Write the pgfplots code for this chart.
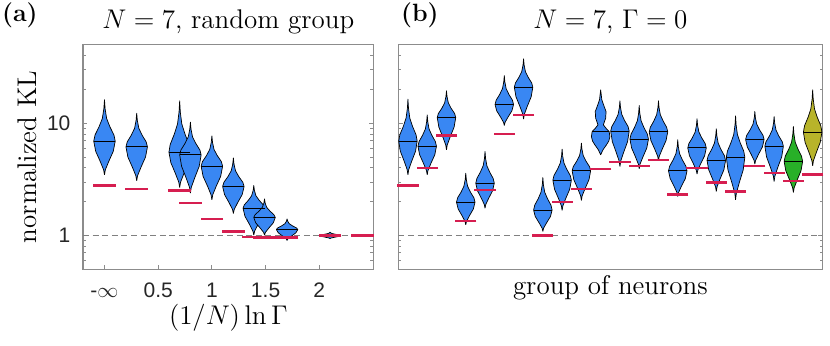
\RequirePackage{fix-cm}
\documentclass[border=0pt]{standalone}
\usepackage{fontspec}
\usepackage{pgfplots}
\pgfplotsset{compat=1.18}
\newfontfamily\ticksf{Liberation Sans}
\definecolor{vblue}{RGB}{57,135,243}
\definecolor{vgreen}{RGB}{40,176,40}
\definecolor{volive}{RGB}{184,180,42}
\definecolor{kred}{RGB}{214,30,80}
\definecolor{axgray}{RGB}{140,140,140}
\definecolor{dgray}{RGB}{128,128,128}
\pgfplotsset{
 panel/.style={
  scale only axis, height=112.3pt,
  ymin=-0.30103, ymax=1.69897,
  ytick={0,1},
  minor ytick={-0.2218,-0.1549,-0.0969,-0.0458,0.3010,0.4771,0.6021,0.6990,0.7782,0.8451,0.9031,0.9542,1.3010,1.4771,1.6021},
  tick align=inside, ytick pos=both, xtick pos=left,
  axis line style={draw=axgray, line width=0.5pt},
  major tick length=2.2pt, minor tick length=1.4pt,
  tick style={draw=axgray, line width=0.4pt},
  ticklabel style={font=\ticksf\fontsize{10.5}{12}\selectfont, text=black!85},
  yticklabel style={inner sep=0pt, xshift=-6.1pt},
  xticklabel style={inner sep=0pt, anchor=base, yshift=-14.2pt},
 },
 vio/.style={draw=black, line width=0.35pt, fill=vblue, line join=round},
}
\begin{document}
\begin{tikzpicture}
\path[use as bounding box] (0,0) rectangle (415pt,173pt);
% ---------------- panel (a)
\begin{axis}[panel, at={(41.5pt,38.35pt)}, anchor=south west, width=145pt,
  xmin=-0.2, xmax=2.5, xtick={0,0.5,1,1.5,2},
  xticklabels={-$\infty$,0.5,1,1.5,2}, yticklabels={1,10}]
\addplot[dgray, line width=0.6pt, dash pattern=on 3pt off 1.8pt] coordinates {(-0.2,0) (2.5,0)};
\def\med#1#2{\addplot[only marks, mark=-, mark size=5.37pt, black, mark options={line width=0.5pt}] coordinates {(#1,#2)};}
\addplot[vio] coordinates {(0,0.540) (0.008,0.585) (0.04,0.660) (0.082,0.750) (0.1,0.840) (0.088,0.895) (0.05,0.969) (0.02,1.042) (0.006,1.127) (0,1.208) (-0.006,1.127) (-0.02,1.042) (-0.05,0.969) (-0.088,0.895) (-0.1,0.840) (-0.082,0.750) (-0.04,0.660) (-0.008,0.585) (0,0.540)};
\med{0}{0.840}
\addplot[vio] coordinates {(0.3,0.487) (0.308,0.532) (0.34,0.608) (0.382,0.698) (0.4,0.789) (0.388,0.834) (0.35,0.894) (0.32,0.954) (0.306,1.023) (0.3,1.089) (0.294,1.023) (0.28,0.954) (0.25,0.894) (0.212,0.834) (0.2,0.789) (0.218,0.698) (0.26,0.608) (0.292,0.532) (0.3,0.487)};
\med{0.3}{0.789}
\addplot[vio] coordinates {(0.7,0.427) (0.708,0.474) (0.74,0.553) (0.782,0.648) (0.8,0.742) (0.788,0.811) (0.75,0.902) (0.72,0.993) (0.706,1.098) (0.7,1.199) (0.694,1.098) (0.68,0.993) (0.65,0.902) (0.612,0.811) (0.6,0.742) (0.618,0.648) (0.66,0.553) (0.692,0.474) (0.7,0.427)};
\med{0.7}{0.742}
\addplot[vio] coordinates {(0.8,0.377) (0.808,0.428) (0.84,0.513) (0.882,0.616) (0.9,0.718) (0.888,0.762) (0.85,0.820) (0.82,0.878) (0.806,0.945) (0.8,1.009) (0.794,0.945) (0.78,0.878) (0.75,0.820) (0.712,0.762) (0.7,0.718) (0.718,0.616) (0.76,0.513) (0.792,0.428) (0.8,0.377)};
\med{0.8}{0.718}
\addplot[vio] coordinates {(1,0.318) (1.008,0.363) (1.04,0.438) (1.082,0.527) (1.1,0.617) (1.088,0.658) (1.05,0.712) (1.02,0.766) (1.006,0.828) (1,0.887) (0.994,0.828) (0.98,0.766) (0.95,0.712) (0.912,0.658) (0.9,0.617) (0.918,0.527) (0.96,0.438) (0.992,0.363) (1,0.318)};
\med{1}{0.617}
\addplot[vio] coordinates {(1.2,0.196) (1.208,0.232) (1.24,0.292) (1.282,0.364) (1.3,0.436) (1.288,0.474) (1.25,0.525) (1.22,0.576) (1.206,0.635) (1.2,0.691) (1.194,0.635) (1.18,0.576) (1.15,0.525) (1.112,0.474) (1.1,0.436) (1.118,0.364) (1.16,0.292) (1.192,0.232) (1.2,0.196)};
\med{1.2}{0.436}
\addplot[vio] coordinates {(1.39,0.003) (1.398,0.039) (1.43,0.099) (1.472,0.171) (1.49,0.243) (1.478,0.273) (1.44,0.314) (1.41,0.354) (1.396,0.401) (1.39,0.445) (1.384,0.401) (1.37,0.354) (1.34,0.314) (1.302,0.273) (1.29,0.243) (1.308,0.171) (1.35,0.099) (1.382,0.039) (1.39,0.003)};
\med{1.39}{0.243}
\addplot[vio] coordinates {(1.49,0.003) (1.498,0.027) (1.53,0.066) (1.572,0.113) (1.59,0.160) (1.578,0.185) (1.54,0.218) (1.51,0.251) (1.496,0.289) (1.49,0.326) (1.484,0.289) (1.47,0.251) (1.44,0.218) (1.402,0.185) (1.39,0.160) (1.408,0.113) (1.45,0.066) (1.482,0.027) (1.49,0.003)};
\med{1.49}{0.160}
\addplot[vio] coordinates {(1.7,-0.045) (1.708,-0.030) (1.74,-0.006) (1.782,0.024) (1.8,0.053) (1.788,0.067) (1.75,0.086) (1.72,0.105) (1.706,0.127) (1.7,0.148) (1.694,0.127) (1.68,0.105) (1.65,0.086) (1.612,0.067) (1.6,0.053) (1.618,0.024) (1.66,-0.006) (1.692,-0.030) (1.7,-0.045)};
\med{1.7}{0.053}
\addplot[vio] coordinates {(2.1,-0.027) (2.108,-0.023) (2.14,-0.016) (2.182,-0.008) (2.2,0) (2.188,0.005) (2.15,0.011) (2.12,0.017) (2.106,0.023) (2.1,0.030) (2.094,0.023) (2.08,0.017) (2.05,0.011) (2.012,0.005) (2.0,0) (2.018,-0.008) (2.06,-0.016) (2.092,-0.023) (2.1,-0.027)};
\med{2.1}{0}
\addplot[only marks, mark=-, mark size=5.64pt, kred, mark options={line width=1.1pt}] coordinates {(0,0.445) (0.3,0.415) (0.7,0.401) (0.8,0.288) (1.0,0.145) (1.2,0.036) (1.39,-0.012) (1.49,-0.018) (1.7,-0.018) (2.1,0) (2.4,0)};
\end{axis}
% ---------------- panel (b)
\begin{axis}[panel, at={(199.15pt,38.35pt)}, anchor=south west, width=212pt,
  xmin=0.5, xmax=22.5, xtick=\empty, yticklabels={}]
\addplot[dgray, line width=0.6pt, dash pattern=on 3pt off 1.8pt] coordinates {(0.5,0) (22.5,0)};
\addplot[vio] coordinates {(1,0.540) (1.038,0.585) (1.192,0.660) (1.394,0.750) (1.48,0.840) (1.422,0.896) (1.24,0.971) (1.096,1.046) (1.029,1.132) (1,1.214) (0.971,1.132) (0.904,1.046) (0.76,0.971) (0.578,0.896) (0.52,0.840) (0.606,0.750) (0.808,0.660) (0.962,0.585) (1,0.540)};
\addplot[vio] coordinates {(2,0.540) (2.038,0.578) (2.192,0.642) (2.394,0.719) (2.48,0.795) (2.422,0.837) (2.24,0.893) (2.096,0.948) (2.029,1.013) (2,1.074) (1.971,1.013) (1.904,0.948) (1.76,0.893) (1.578,0.837) (1.52,0.795) (1.606,0.719) (1.808,0.642) (1.962,0.578) (2,0.540)};
\addplot[vio] coordinates {(3,0.763) (3.038,0.806) (3.192,0.878) (3.394,0.964) (3.48,1.050) (3.422,1.086) (3.24,1.133) (3.096,1.181) (3.029,1.236) (3,1.288) (2.971,1.236) (2.904,1.181) (2.76,1.133) (2.578,1.086) (2.52,1.050) (2.606,0.964) (2.808,0.878) (2.962,0.806) (3,0.763)};
\addplot[vio] coordinates {(4,0.095) (4.038,0.125) (4.192,0.176) (4.394,0.236) (4.48,0.297) (4.422,0.336) (4.24,0.387) (4.096,0.439) (4.029,0.498) (4,0.555) (3.971,0.498) (3.904,0.439) (3.76,0.387) (3.578,0.336) (3.52,0.297) (3.606,0.236) (3.808,0.176) (3.962,0.125) (4,0.095)};
\addplot[vio] coordinates {(5,0.243) (5.038,0.276) (5.192,0.332) (5.394,0.399) (5.48,0.466) (5.422,0.508) (5.24,0.565) (5.096,0.621) (5.029,0.686) (5,0.748) (4.971,0.686) (4.904,0.621) (4.76,0.565) (4.578,0.508) (4.52,0.466) (4.606,0.399) (4.808,0.332) (4.962,0.276) (5,0.243)};
\addplot[vio] coordinates {(6,0.979) (6.038,1.007) (6.192,1.054) (6.394,1.110) (6.48,1.166) (6.422,1.205) (6.24,1.256) (6.096,1.308) (6.029,1.367) (6,1.424) (5.971,1.367) (5.904,1.308) (5.76,1.256) (5.578,1.205) (5.52,1.166) (5.606,1.110) (5.808,1.054) (5.962,1.007) (6,0.979)};
\addplot[vio] coordinates {(7,1.036) (7.038,1.079) (7.192,1.150) (7.394,1.235) (7.48,1.320) (7.422,1.358) (7.24,1.409) (7.096,1.459) (7.029,1.517) (7,1.573) (6.971,1.517) (6.904,1.459) (6.76,1.409) (6.578,1.358) (6.52,1.320) (6.606,1.235) (6.808,1.150) (6.962,1.079) (7,1.036)};
\addplot[vio] coordinates {(8,0.036) (8.038,0.065) (8.192,0.112) (8.394,0.169) (8.48,0.226) (8.422,0.270) (8.24,0.328) (8.096,0.386) (8.029,0.452) (8,0.516) (7.971,0.452) (7.904,0.386) (7.76,0.328) (7.578,0.270) (7.52,0.226) (7.606,0.169) (7.808,0.112) (7.962,0.065) (8,0.036)};
\addplot[vio] coordinates {(9,0.223) (9.038,0.264) (9.192,0.331) (9.394,0.412) (9.48,0.493) (9.422,0.534) (9.24,0.590) (9.096,0.645) (9.029,0.708) (9,0.769) (8.971,0.708) (8.904,0.645) (8.76,0.590) (8.578,0.534) (8.52,0.493) (8.606,0.412) (8.808,0.331) (8.962,0.264) (9,0.223)};
\addplot[vio] coordinates {(10,0.312) (10.038,0.352) (10.192,0.418) (10.394,0.497) (10.48,0.576) (10.422,0.613) (10.24,0.662) (10.096,0.711) (10.029,0.768) (10,0.822) (9.971,0.768) (9.904,0.711) (9.76,0.662) (9.578,0.613) (9.52,0.576) (9.606,0.497) (9.808,0.418) (9.962,0.352) (10,0.312)};
\addplot[vio] coordinates {(11,0.718) (11.12,0.763) (11.30,0.807) (11.42,0.840) (11.48,0.880) (11.44,0.926) (11.30,0.950) (11.14,0.985) (11.26,1.045) (11.28,1.104) (11.18,1.149) (11.06,1.208) (11,1.297) (10.94,1.208) (10.82,1.149) (10.72,1.104) (10.74,1.045) (10.86,0.985) (10.70,0.950) (10.56,0.926) (10.52,0.880) (10.58,0.840) (10.70,0.807) (10.88,0.763) (11,0.718)};
\addplot[vio] coordinates {(12,0.614) (12.038,0.661) (12.192,0.740) (12.394,0.835) (12.48,0.929) (12.422,0.970) (12.24,1.024) (12.096,1.078) (12.029,1.140) (12,1.199) (11.971,1.140) (11.904,1.078) (11.76,1.024) (11.578,0.970) (11.52,0.929) (11.606,0.835) (11.808,0.740) (11.962,0.661) (12,0.614)};
\addplot[vio] coordinates {(13,0.593) (13.038,0.633) (13.192,0.699) (13.394,0.779) (13.48,0.858) (13.422,0.903) (13.24,0.963) (13.096,1.022) (13.029,1.091) (13,1.157) (12.971,1.091) (12.904,1.022) (12.76,0.963) (12.578,0.903) (12.52,0.858) (12.606,0.779) (12.808,0.699) (12.962,0.633) (13,0.593)};
\addplot[vio] coordinates {(14,0.665) (14.038,0.704) (14.192,0.768) (14.394,0.846) (14.48,0.923) (14.422,0.964) (14.24,1.020) (14.096,1.075) (14.029,1.138) (14,1.199) (13.971,1.138) (13.904,1.075) (13.76,1.020) (13.578,0.964) (13.52,0.923) (13.606,0.846) (13.808,0.768) (13.962,0.704) (14,0.665)};
\addplot[vio] coordinates {(15,0.347) (15.038,0.381) (15.192,0.439) (15.394,0.507) (15.48,0.576) (15.422,0.617) (15.24,0.673) (15.096,0.728) (15.029,0.791) (15,0.852) (14.971,0.791) (14.904,0.728) (14.76,0.673) (14.578,0.617) (14.52,0.576) (14.606,0.507) (14.808,0.439) (14.962,0.381) (15,0.347)};
\addplot[vio] coordinates {(16,0.546) (16.038,0.581) (16.192,0.640) (16.394,0.710) (16.48,0.780) (16.422,0.819) (16.24,0.871) (16.096,0.922) (16.029,0.982) (16,1.039) (15.971,0.982) (15.904,0.922) (15.76,0.871) (15.578,0.819) (15.52,0.780) (15.606,0.710) (15.808,0.640) (15.962,0.581) (16,0.546)};
\addplot[vio] coordinates {(17,0.392) (17.038,0.433) (17.192,0.502) (17.394,0.585) (17.48,0.668) (17.422,0.710) (17.24,0.767) (17.096,0.823) (17.029,0.888) (17,0.950) (16.971,0.888) (16.904,0.823) (16.76,0.767) (16.578,0.710) (16.52,0.668) (16.606,0.585) (16.808,0.502) (16.962,0.433) (17,0.392)};
\addplot[vio] coordinates {(18,0.318) (18.038,0.375) (18.192,0.470) (18.394,0.583) (18.48,0.697) (18.422,0.752) (18.24,0.826) (18.096,0.899) (18.029,0.984) (18,1.065) (17.971,0.984) (17.904,0.899) (17.76,0.826) (17.578,0.752) (17.52,0.697) (17.606,0.583) (17.808,0.470) (17.962,0.375) (18,0.318)};
\addplot[vio] coordinates {(19,0.635) (19.038,0.668) (19.192,0.723) (19.394,0.789) (19.48,0.855) (19.422,0.892) (19.24,0.942) (19.096,0.992) (19.029,1.049) (19,1.104) (18.971,1.049) (18.904,0.992) (18.76,0.942) (18.578,0.892) (18.52,0.855) (18.606,0.789) (18.808,0.723) (18.962,0.668) (19,0.635)};
\addplot[vio] coordinates {(20,0.481) (20.038,0.528) (20.192,0.607) (20.394,0.701) (20.48,0.795) (20.422,0.835) (20.24,0.887) (20.096,0.940) (20.029,1.001) (20,1.059) (19.971,1.001) (19.904,0.940) (19.76,0.887) (19.578,0.835) (19.52,0.795) (19.606,0.701) (19.808,0.607) (19.962,0.528) (20,0.481)};
\addplot[vio, fill=vgreen] coordinates {(21,0.383) (21.038,0.424) (21.192,0.493) (21.394,0.576) (21.48,0.659) (21.422,0.706) (21.24,0.768) (21.096,0.830) (21.029,0.902) (21,0.970) (20.971,0.902) (20.904,0.830) (20.76,0.768) (20.578,0.706) (20.52,0.659) (20.606,0.576) (20.808,0.493) (20.962,0.424) (21,0.383)};
\addplot[vio, fill=volive] coordinates {(22,0.620) (22.038,0.665) (22.192,0.740) (22.394,0.830) (22.48,0.920) (22.422,0.977) (22.24,1.052) (22.096,1.127) (22.029,1.214) (22,1.297) (21.971,1.214) (21.904,1.127) (21.76,1.052) (21.578,0.977) (21.52,0.920) (21.606,0.830) (21.808,0.740) (21.962,0.665) (22,0.620)};
\addplot[only marks, mark=-, mark size=4.63pt, black, mark options={line width=0.5pt}] coordinates {(1,0.840) (2,0.795) (3,1.050) (4,0.297) (5,0.466) (6,1.166) (7,1.320) (8,0.226) (9,0.493) (10,0.576) (12,0.929) (13,0.858) (14,0.923) (15,0.576) (16,0.780) (17,0.668) (18,0.697) (19,0.855) (20,0.795) (21,0.659) (22,0.920)};
\addplot[only marks, mark=-, mark size=4.25pt, black, mark options={line width=0.5pt}] coordinates {(11,0.923)};
\addplot[only marks, mark=-, mark size=5.3pt, kred, mark options={line width=1.1pt}] coordinates {(1,0.445) (2,0.602) (3,0.890) (4,0.128) (5,0.404) (6,0.902) (7,1.074) (8,0.0) (9,0.300) (10,0.412) (11,0.593) (12,0.656) (13,0.620) (14,0.671) (15,0.365) (16,0.602) (17,0.472) (18,0.392) (19,0.620) (20,0.558) (21,0.487) (22,0.543)};
\end{axis}
% ---------------- texts
\node[anchor=base west, inner sep=0, font=\bfseries\fontsize{12.5}{14}\selectfont] at (0.85pt,162.15pt) {(a)};
\node[anchor=base west, inner sep=0, font=\bfseries\fontsize{12.5}{14}\selectfont] at (200.35pt,162.15pt) {(b)};
\node[anchor=base, inner sep=0, font=\fontsize{13.5}{16}\selectfont] at (114.15pt,158.85pt) {$N=7$, random group};
\node[anchor=base, inner sep=0, font=\fontsize{13.5}{16}\selectfont] at (305.2pt,158.85pt) {$N=7$, $\Gamma=0$};
\node[anchor=base, inner sep=0, font=\fontsize{13.5}{16}\selectfont] at (114.15pt,10.5pt) {$(1/N)\ln\Gamma$};
\node[anchor=base, inner sep=0, font=\fontsize{13.5}{16}\selectfont] at (305.2pt,25.5pt) {group of neurons};
\node[anchor=base, inner sep=0, rotate=90, font=\fontsize{13.5}{16}\selectfont] at (18.35pt,94.5pt) {normalized KL};
\end{tikzpicture}
\end{document}
